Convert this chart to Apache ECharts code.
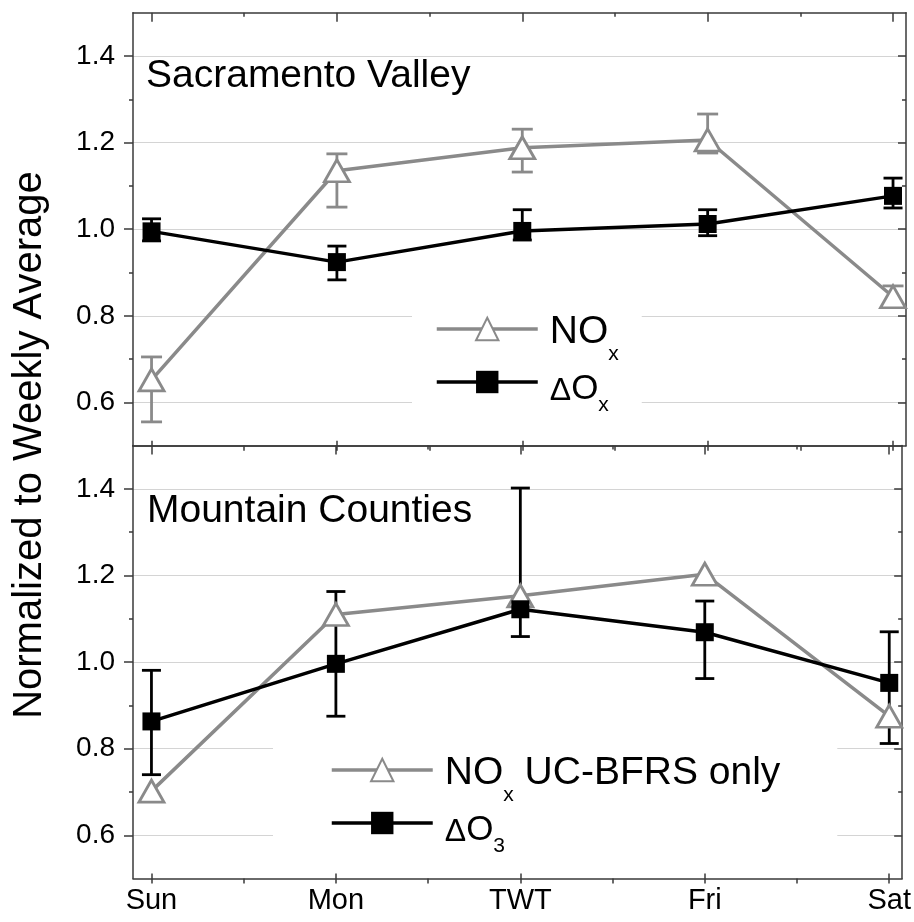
<!DOCTYPE html>
<html><head><meta charset="utf-8">
<script src="https://cdn.jsdelivr.net/npm/echarts@6/dist/echarts.min.js"></script>
<style>html,body{margin:0;padding:0;background:#fff}#c{width:914px;height:922px}</style>
</head><body><div id="c"></div>
<script>
// ---------- data ----------
const days = ['Sun', 'Mon', 'TWT', 'Fri', 'Sat'];
const dayPositions = [0, 1, 2, 3, 4];
const xTickPositions = [0, 0.5, 1, 1.5, 2, 2.5, 3, 3.5, 4];
const xMinorPositions = [0.5, 1.5, 2.5, 3.5];
const yTicks = [0.6, 0.8, 1.0, 1.2, 1.4];
const yMinorTicks = [0.7, 0.9, 1.1, 1.3];

// Sacramento Valley
const svNOx      = [0.652, 1.135, 1.188, 1.206, 0.844];
const svNOxLow   = [0.555, 1.051, 1.132, 1.176, 0.821];
const svNOxHigh  = [0.705, 1.174, 1.231, 1.266, 0.869];
const svDOx      = [0.995, 0.924, 0.996, 1.012, 1.077];
const svDOxLow   = [0.973, 0.883, 0.975, 0.985, 1.049];
const svDOxHigh  = [1.024, 0.961, 1.045, 1.045, 1.118];

// Mountain Counties
const mcNOx      = [0.702, 1.110, 1.153, 1.203, 0.875];
const mcDO3      = [0.863, 0.996, 1.122, 1.069, 0.952];
const mcDO3Low   = [0.740, 0.875, 1.059, 0.962, 0.812];
const mcDO3High  = [0.981, 1.163, 1.402, 1.141, 1.070];

// ---------- styles ----------
const GRAY = '#8a8a8a';
const BLACK = '#000';
const AXIS = '#3a3a3a';
const FONT = '"Liberation Sans", Arial, sans-serif';

const chart = echarts.init(document.getElementById('c'), null, {renderer: 'canvas'});

const grids = [
  {left: 133, right: 8, top: 12.7, height: 433},
  {left: 133, right: 8, top: 445.6, height: 433}
];

const xAxes = [], yAxes = [];
grids.forEach((g, gi) => {
  const base = {type: 'value', gridIndex: gi, min: -0.1, max: 4.07, splitLine: {show: false}};
  xAxes.push(Object.assign({}, base, {
    position: 'bottom',
    axisLine: {show: true, onZero: false, lineStyle: {color: AXIS, width: 1.5}},
    axisTick: {show: true, customValues: xTickPositions, length: 5, inside: false, lineStyle: {color: AXIS, width: 1.5}},
    axisLabel: {show: gi === 1, customValues: dayPositions, margin: 8,
      formatter: v => days[Math.round(v)], color: '#000', fontSize: 29, fontFamily: FONT}
  }));
  xAxes.push(Object.assign({}, base, {
    position: 'bottom', axisLine: {show: false, onZero: false},
    axisTick: {show: true, customValues: dayPositions, length: 5, inside: true, lineStyle: {color: AXIS, width: 1.5}},
    axisLabel: {show: false}
  }));
  xAxes.push(Object.assign({}, base, {
    position: 'top',
    axisLine: {show: true, onZero: false, lineStyle: {color: AXIS, width: 1.5}},
    axisTick: {show: true, customValues: dayPositions, length: 9, inside: true, lineStyle: {color: AXIS, width: 1.5}},
    axisLabel: {show: false}
  }));
  xAxes.push(Object.assign({}, base, {
    position: 'top', axisLine: {show: false, onZero: false},
    axisTick: {show: true, customValues: xMinorPositions, length: 4, inside: true, lineStyle: {color: AXIS, width: 1.5}},
    axisLabel: {show: false}
  }));

  const ybase = {type: 'value', gridIndex: gi, min: 0.5, max: 1.5};
  yAxes.push(Object.assign({}, ybase, {
    position: 'left',
    axisLine: {show: true, onZero: false, lineStyle: {color: AXIS, width: 1.5}},
    axisTick: {show: true, customValues: yTicks, length: 9, inside: false, lineStyle: {color: AXIS, width: 1.5}},
    axisLabel: {show: true, customValues: yTicks, margin: 18, formatter: v => v.toFixed(1),
      color: '#000', fontSize: 28, fontFamily: FONT},
    splitLine: {show: true, lineStyle: {color: '#d4d4d4', width: 1.2}}
  }));
  yAxes.push(Object.assign({}, ybase, {
    position: 'left', axisLine: {show: false, onZero: false},
    axisTick: {show: true, customValues: yMinorTicks, length: 4, inside: false, lineStyle: {color: AXIS, width: 1.5}},
    axisLabel: {show: false}, splitLine: {show: false}
  }));
  yAxes.push(Object.assign({}, ybase, {
    position: 'right',
    axisLine: {show: true, onZero: false, lineStyle: {color: AXIS, width: 1.5}},
    axisTick: {show: true, customValues: yTicks, length: 8, inside: true, lineStyle: {color: AXIS, width: 1.5}},
    axisLabel: {show: false}, splitLine: {show: false}
  }));
  yAxes.push(Object.assign({}, ybase, {
    position: 'right', axisLine: {show: false, onZero: false},
    axisTick: {show: true, customValues: yMinorTicks, length: 4, inside: true, lineStyle: {color: AXIS, width: 1.5}},
    axisLabel: {show: false}, splitLine: {show: false}
  }));
});

function errSeries(low, high, color, cap, gi) {
  return {
    type: 'custom', xAxisIndex: gi * 4, yAxisIndex: gi * 4, z: 2, silent: true, animation: false,
    data: low.map((l, i) => [dayPositions[i], l, high[i]]),
    encode: {x: 0, y: [1, 2]},
    renderItem(params, api) {
      const x = api.value(0);
      const p1 = api.coord([x, api.value(1)]);
      const p2 = api.coord([x, api.value(2)]);
      const h = cap / 2;
      const st = {stroke: color, lineWidth: 2.8};
      return {type: 'group', children: [
        {type: 'line', shape: {x1: p1[0], y1: p1[1], x2: p2[0], y2: p2[1]}, style: st},
        {type: 'line', shape: {x1: p1[0] - h, y1: p1[1], x2: p1[0] + h, y2: p1[1]}, style: st},
        {type: 'line', shape: {x1: p2[0] - h, y1: p2[1], x2: p2[0] + h, y2: p2[1]}, style: st}
      ]};
    }
  };
}

function triSeries(name, vals, gi) {
  return {
    type: 'line', name, xAxisIndex: gi * 4, yAxisIndex: gi * 4, z: 3, animation: false,
    data: vals.map((v, i) => [dayPositions[i], v]),
    symbol: 'triangle', symbolSize: [25, 22],
    itemStyle: {color: '#fff', borderColor: GRAY, borderWidth: 2.8},
    lineStyle: {color: GRAY, width: 3.5}
  };
}
function sqSeries(name, vals, gi) {
  return {
    type: 'line', name, xAxisIndex: gi * 4, yAxisIndex: gi * 4, z: 4, animation: false,
    data: vals.map((v, i) => [dayPositions[i], v]),
    symbol: 'rect', symbolSize: 18,
    itemStyle: {color: BLACK, borderWidth: 0},
    lineStyle: {color: BLACK, width: 3.5}
  };
}

const tok = (fs, pt, pl) => ({fontSize: fs, lineHeight: 40, padding: [pt, 0, 32 - pt, pl || 0],
  verticalAlign: 'top', fontFamily: FONT, color: '#000'});
const rich = {
  n:  tok(39, 4, 0),
  n0: tok(39, 4, 7),
  o:  tok(35, 10, 0),
  d0: tok(32, 13, 7),
  s:  {fontSize: 21, lineHeight: 21, padding: [35, 0, 0, 0], verticalAlign: 'top', fontFamily: FONT, color: '#000'},
  s2: {fontSize: 21, lineHeight: 21, padding: [33, 0, 0, 0], verticalAlign: 'top', fontFamily: FONT, color: '#000'}
};
const legendText = {
  'NOx': '{n0|NO}{s|x}',
  'ΔOx': '{d0|Δ}{o|O}{s2|x}',
  'NOx UC-BFRS only': '{n0|NO}{s|x}{n| UC-BFRS only}',
  'ΔO3': '{d0|Δ}{o|O}{s2|3}'
};
function legend(names, left, top, pad) {
  return {
    data: names, orient: 'vertical', left, top, padding: [8, pad, 0, pad],
    backgroundColor: '#fff', itemWidth: 101, itemHeight: 28, itemGap: -18,
    selectedMode: false, formatter: n => legendText[n],
    lineStyle: {width: 3.5},
    textStyle: {rich}
  };
}

chart.setOption({
  animation: false,
  backgroundColor: '#fff',
  grid: grids,
  xAxis: xAxes,
  yAxis: yAxes,
  title: [
    {text: 'Sacramento Valley', left: 146, top: 57, padding: 0,
      textStyle: {fontSize: 39, lineHeight: 39, fontWeight: 'normal', color: '#000', fontFamily: FONT}},
    {text: 'Mountain Counties', left: 147, top: 492, padding: 0,
      textStyle: {fontSize: 39, lineHeight: 39, fontWeight: 'normal', color: '#000', fontFamily: FONT}}
  ],
  legend: [
    legend(['NOx', 'ΔOx'], 412, 301, 23),
    legend(['NOx UC-BFRS only', 'ΔO3'], 273, 742, 57)
  ],
  graphic: [{
    type: 'text', x: 30, y: 445, rotation: Math.PI / 2,
    style: {text: 'Normalized to Weekly Average', fontSize: 40, fontFamily: FONT, fill: '#000',
      textAlign: 'center', textVerticalAlign: 'middle'}
  }],
  series: [
    errSeries(svNOxLow, svNOxHigh, GRAY, 21, 0),
    errSeries(svDOxLow, svDOxHigh, BLACK, 19, 0),
    triSeries('NOx', svNOx, 0),
    sqSeries('ΔOx', svDOx, 0),
    errSeries(mcDO3Low, mcDO3High, BLACK, 19, 1),
    triSeries('NOx UC-BFRS only', mcNOx, 1),
    sqSeries('ΔO3', mcDO3, 1)
  ]
});
</script>
</body></html>
